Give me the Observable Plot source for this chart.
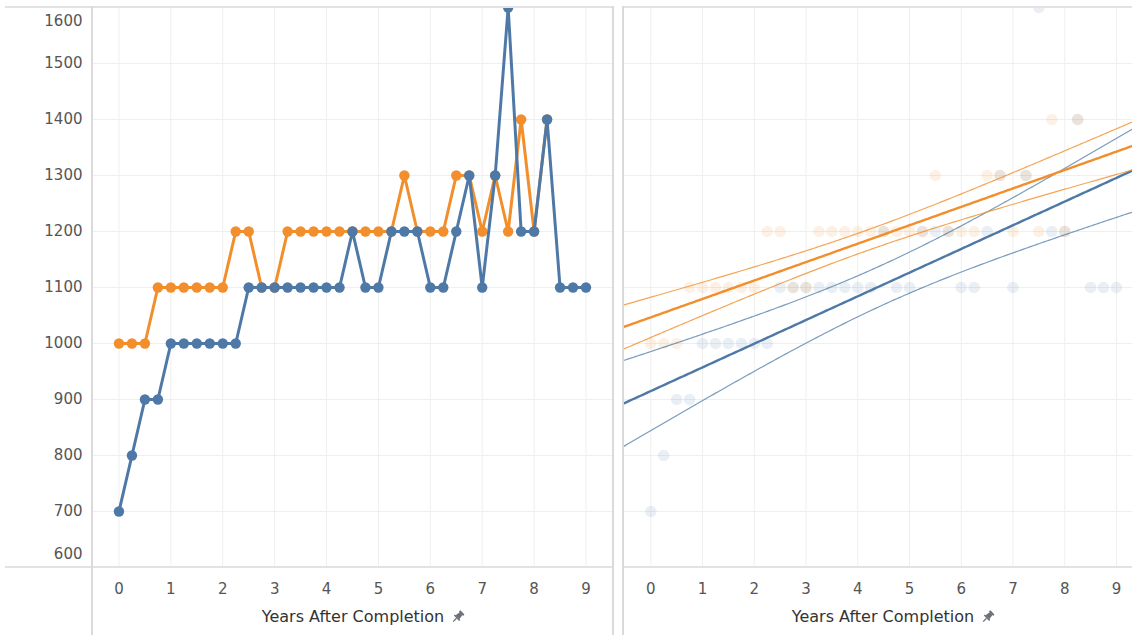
<!DOCTYPE html>
<html><head><meta charset="utf-8">
<script src="https://cdn.jsdelivr.net/npm/d3@7"></script>
<script src="https://cdn.jsdelivr.net/npm/@observablehq/plot@0.6"></script>
<style>
body{margin:0;background:#fff;overflow:hidden;font-family:"DejaVu Sans",sans-serif;}
#wrap{position:relative;width:1132px;height:635px;}
.panel{position:absolute;top:0;height:635px;}
.panel svg{max-width:none !important;height:635px !important;display:block;}
.hl{position:absolute;height:2px;background:#e2e2e2;}
.vl{position:absolute;width:2px;background:#dadada;}
.title{position:absolute;top:607px;font-size:16px;line-height:20px;color:#333;white-space:nowrap;transform:translateX(-50%);}
.title svg{position:absolute;left:100%;margin-left:7px;top:3px;}
</style></head>
<body><div id="wrap"></div>
<script>
// ---- data ----
const years = [0,0.25,0.5,0.75,1,1.25,1.5,1.75,2,2.25,2.5,2.75,3,3.25,3.5,3.75,4,4.25,4.5,4.75,5,5.25,5.5,5.75,6,6.25,6.5,6.75,7,7.25,7.5,7.75,8,8.25,8.5,8.75,9];
const blueValues = [700,800,900,900,1000,1000,1000,1000,1000,1000,1100,1100,1100,1100,1100,1100,1100,1100,1200,1100,1100,1200,1200,1200,1100,1100,1200,1300,1100,1300,1600,1200,1200,1400,1100,1100,1100];
const orangeValues = [1000,1000,1000,1100,1100,1100,1100,1100,1100,1200,1200,1100,1100,1200,1200,1200,1200,1200,1200,1200,1200,1200,1300,1200,1200,1200,1300,1300,1200,1300,1200,1400,1200,1400];
const xTicks = [0,1,2,3,4,5,6,7,8,9];
const yTicks = [600,700,800,900,1000,1100,1200,1300,1400,1500,1600];
const seriesColors = {blue:"#4e79a7", orange:"#f28e2b"};
const axisTitle = "Years After Completion";

const blueRows = blueValues.map((v,i)=>({x:years[i], y:v}));
const orangeRows = orangeValues.map((v,i)=>({x:years[i], y:v}));

// ---- linear regression with 95% confidence band ----
function tQuantile975(df){
  const z = 1.959963985;
  return z + (z**3 + z)/(4*df) + (5*z**5 + 16*z**3 + 3*z)/(96*df*df)
    + (3*z**7 + 19*z**5 + 17*z**3 - 15*z)/(384*df**3);
}
function fit(rows, xs){
  const n = rows.length;
  const mx = d3.mean(rows, d=>d.x), my = d3.mean(rows, d=>d.y);
  let sxx=0, sxy=0;
  for (const d of rows){ sxx += (d.x-mx)**2; sxy += (d.x-mx)*(d.y-my); }
  const b = sxy/sxx, a = my - b*mx;
  let sse = 0;
  for (const d of rows) sse += (d.y - a - b*d.x)**2;
  const s = Math.sqrt(sse/(n-2)), t = tQuantile975(n-2);
  return xs.map(x => {
    const yh = a + b*x, h = t*s*Math.sqrt(1/n + (x-mx)**2/sxx);
    return {x, y:yh, lo:yh-h, hi:yh+h};
  });
}

const font = "DejaVu Sans, sans-serif";
const gridColor = "#efefef";
const tickColor = "#555";
const yDomain = [600, 1600];
const fmt = d3.format("d");

// ---- left panel ----
const leftX = [-0.51, 9.53];
const left = Plot.plot({
  width: 613, height: 635,
  marginLeft: 92, marginRight: 0, marginTop: 7, marginBottom: 68,
  x: {domain: leftX, label: null},
  y: {domain: yDomain, label: null},
  style: {fontFamily: font, fontSize: "15px", color: tickColor, background: "transparent"},
  marks: [
    Plot.gridX(xTicks, {stroke: gridColor, strokeOpacity: 1}),
    Plot.gridY(yTicks, {stroke: gridColor, strokeOpacity: 1}),
    Plot.axisX(xTicks, {tickSize: 0, tickPadding: 16, label: null, fill: tickColor, tickFormat: fmt}),
    Plot.axisY(yTicks.slice(1, -1), {tickSize: 0, tickPadding: 10, label: null, fill: tickColor, tickFormat: fmt}),
    Plot.axisY(yTicks.slice(-1), {tickSize: 0, tickPadding: 10, label: null, fill: tickColor, dy: 14, tickFormat: fmt}),
    Plot.axisY(yTicks.slice(0, 1), {tickSize: 0, tickPadding: 10, label: null, fill: tickColor, dy: -13, tickFormat: fmt}),
    Plot.line(orangeRows, {x: "x", y: "y", stroke: seriesColors.orange, strokeWidth: 3, clip: true}),
    Plot.dot(orangeRows, {x: "x", y: "y", r: 5.2, fill: seriesColors.orange, clip: true}),
    Plot.line(blueRows, {x: "x", y: "y", stroke: seriesColors.blue, strokeWidth: 3, clip: true}),
    Plot.dot(blueRows, {x: "x", y: "y", r: 5.2, fill: seriesColors.blue, clip: true})
  ]
});

// ---- right panel ----
const rightX = [-0.547, 9.31];
const sampleX = d3.range(rightX[0] - 0.1, rightX[1] + 0.1, 0.05);
const blueFit = fit(blueRows, sampleX);
const orangeFit = fit(orangeRows, sampleX);
const right = Plot.plot({
  width: 510, height: 635,
  marginLeft: 0, marginRight: 0, marginTop: 7, marginBottom: 68,
  x: {domain: rightX, label: null},
  y: {domain: yDomain, label: null},
  style: {fontFamily: font, fontSize: "15px", color: tickColor, background: "transparent"},
  marks: [
    Plot.gridX(xTicks, {stroke: gridColor, strokeOpacity: 1}),
    Plot.gridY(yTicks, {stroke: gridColor, strokeOpacity: 1}),
    Plot.axisX(xTicks, {tickSize: 0, tickPadding: 16, label: null, fill: tickColor, tickFormat: fmt}),
    Plot.dot(blueRows, {x: "x", y: "y", r: 5.8, fill: seriesColors.blue, fillOpacity: 0.12, clip: true}),
    Plot.dot(orangeRows, {x: "x", y: "y", r: 5.8, fill: seriesColors.orange, fillOpacity: 0.12, clip: true}),
    Plot.line(blueFit, {x: "x", y: "hi", stroke: seriesColors.blue, strokeOpacity: 0.75, strokeWidth: 1.2, clip: true}),
    Plot.line(blueFit, {x: "x", y: "lo", stroke: seriesColors.blue, strokeOpacity: 0.75, strokeWidth: 1.2, clip: true}),
    Plot.line(blueFit, {x: "x", y: "y", stroke: seriesColors.blue, strokeWidth: 2.4, clip: true}),
    Plot.line(orangeFit, {x: "x", y: "hi", stroke: seriesColors.orange, strokeOpacity: 0.8, strokeWidth: 1.2, clip: true}),
    Plot.line(orangeFit, {x: "x", y: "lo", stroke: seriesColors.orange, strokeOpacity: 0.8, strokeWidth: 1.2, clip: true}),
    Plot.line(orangeFit, {x: "x", y: "y", stroke: seriesColors.orange, strokeWidth: 2.4, clip: true})
  ]
});

// ---- layout ----
const wrap = document.getElementById("wrap");
function place(node, leftPx, w){
  const d = document.createElement("div");
  d.className = "panel"; d.style.left = leftPx + "px"; d.style.width = w + "px";
  d.appendChild(node); wrap.appendChild(d);
}
place(left, 0, 613);
place(right, 622, 510);

function line(cls, l, t, w, h){
  const d = document.createElement("div");
  d.className = cls;
  d.style.left = l+"px"; d.style.top = t+"px";
  if (w != null) d.style.width = w+"px";
  if (h != null) d.style.height = h+"px";
  wrap.appendChild(d);
}
line("hl", 5, 6, 608);
line("hl", 622, 6, 510);
line("hl", 5, 566, 608);
line("hl", 622, 566, 510);
line("vl", 91, 6, null, 629);
line("vl", 612, 6, null, 629);
line("vl", 622, 6, null, 629);

const pin = '<svg width="14" height="14" viewBox="0 0 16 16"><g transform="rotate(45 8 8)" fill="#6a6e75"><rect x="4.5" y="0.5" width="7" height="2.2" rx="0.6"/><path d="M5.8 2.7h4.4l0.9 5.6h-6.2z"/><rect x="3.6" y="8.2" width="8.8" height="1.8" rx="0.5"/><rect x="7.3" y="10" width="1.4" height="5.5"/></g></svg>';
function title(cx){
  const d = document.createElement("div");
  d.className = "title"; d.style.left = cx + "px";
  d.innerHTML = '<span>' + axisTitle + '</span>' + pin;
  wrap.appendChild(d);
}
title(353);
title(883);
</script>
</body></html>
